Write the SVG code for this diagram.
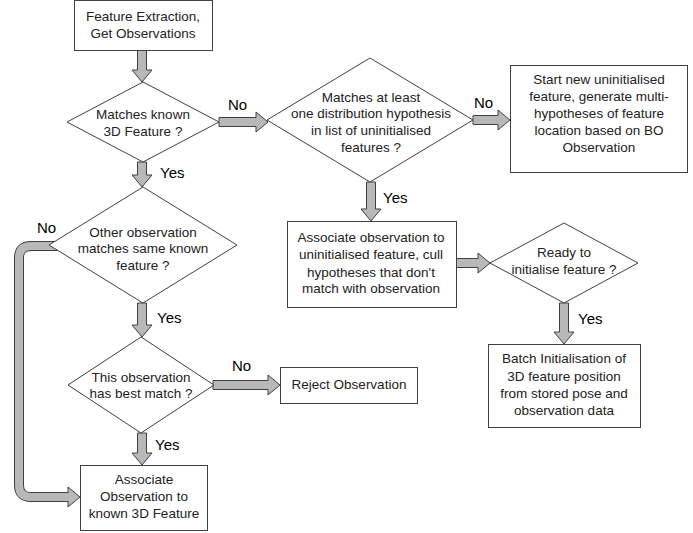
<svg xmlns="http://www.w3.org/2000/svg" width="693" height="533" viewBox="0 0 693 533">
<style>
.n{fill:#fff;stroke:#404040;stroke-width:1}
.t{font-family:"Liberation Sans",Arial,sans-serif;font-size:13.5px;fill:#222;text-anchor:middle}
.l{font-family:"Liberation Sans",Arial,sans-serif;font-size:15px;fill:#000}
.a{fill:#b8b8b8;stroke:#404040;stroke-width:1;stroke-linejoin:miter}
.so{fill:none;stroke:#404040;stroke-width:10}
.si{fill:none;stroke:#b8b8b8;stroke-width:8}
</style>
<rect width="693" height="533" fill="#fff"/>
<g id="connectors">
<polygon class="a" points="137.5,50 146.5,50 146.5,70 152,70 142,82 132,70 137.5,70"/>
<polygon class="a" points="137.5,162 146.5,162 146.5,175 152,175 142,187 132,175 137.5,175"/>
<polygon class="a" points="137.5,303 146.5,303 146.5,325 152,325 142,337 132,325 137.5,325"/>
<polygon class="a" points="137.5,433 146.5,433 146.5,453 152,453 142,465 132,453 137.5,453"/>
<polygon class="a" points="219,117.5 256,117.5 256,112 268,122 256,132 256,126.5 219,126.5"/>
<polygon class="a" points="473,115.5 498,115.5 498,110 510,120 498,130 498,124.5 473,124.5"/>
<polygon class="a" points="366.5,182 375.5,182 375.5,209 381,209 371,221 361,209 366.5,209"/>
<polygon class="a" points="456,258.5 478,258.5 478,253 490,263 478,273 478,267.5 456,267.5"/>
<polygon class="a" points="559.5,303 568.5,303 568.5,332 574,332 564,344 554,332 559.5,332"/>
<polygon class="a" points="213,380.5 268,380.5 268,375 280,385 268,395 268,389.5 213,389.5"/>
<path class="so" d="M 60 246 L 31 246 Q 19 246 19 258 L 19 485 Q 19 497 31 497 L 68 497"/>
<polygon class="a" points="68,487 80,497 68,507"/>
<path class="si" d="M 60 246 L 31 246 Q 19 246 19 258 L 19 485 Q 19 497 31 497 L 69 497"/>
</g>
<g id="n1"><rect class="n" x="74.5" y="0.5" width="138" height="50"/>
<text class="t" x="143" y="21">Feature Extraction,</text><text class="t" x="143" y="38">Get Observations</text></g>
<g id="d1"><polygon class="n" points="143,82 219,122 143,162 67,122"/>
<text class="t" x="143" y="119">Matches known</text><text class="t" x="143" y="136">3D Feature ?</text></g>
<g id="d2"><polygon class="n" points="370,58 473,120 370,182 267,120"/>
<text class="t" x="371" y="102">Matches at least</text><text class="t" x="371" y="118">one distribution hypothesis</text><text class="t" x="371" y="135">in list of uninitialised</text><text class="t" x="371" y="152">features ?</text></g>
<g id="n2"><rect class="n" x="510.5" y="65.5" width="177" height="107"/>
<text class="t" x="599" y="84">Start new uninitialised</text><text class="t" x="599" y="101">feature, generate multi-</text><text class="t" x="599" y="118">hypotheses of feature</text><text class="t" x="599" y="135">location based on BO</text><text class="t" x="599" y="152">Observation</text></g>
<g id="n3"><rect class="n" x="287.5" y="221.5" width="169" height="86"/>
<text class="t" x="371" y="242">Associate observation to</text><text class="t" x="371" y="259">uninitialised feature, cull</text><text class="t" x="371" y="277">hypotheses that don't</text><text class="t" x="371" y="293">match with observation</text></g>
<g id="d3"><polygon class="n" points="564,223 638,263 564,303 490,263"/>
<text class="t" x="564" y="257">Ready to</text><text class="t" x="564" y="274">initialise feature ?</text></g>
<g id="n4"><rect class="n" x="488.5" y="344.5" width="152" height="83"/>
<text class="t" x="564" y="363">Batch Initialisation of</text><text class="t" x="564" y="381">3D feature position</text><text class="t" x="564" y="398">from stored pose and</text><text class="t" x="564" y="415">observation data</text></g>
<g id="d4"><polygon class="n" points="143,187 237,245 143,303 49,245"/>
<text class="t" x="143" y="237">Other observation</text><text class="t" x="143" y="253">matches same known</text><text class="t" x="143" y="270">feature ?</text></g>
<g id="d5"><polygon class="n" points="141,337 214,385 141,433 68,385"/>
<text class="t" x="141" y="382">This observation</text><text class="t" x="141" y="398">has best match ?</text></g>
<g id="n5"><rect class="n" x="280.5" y="367.5" width="137" height="36"/>
<text class="t" x="349" y="389">Reject Observation</text></g>
<g id="n6"><rect class="n" x="80.5" y="465.5" width="127" height="65"/>
<text class="t" x="144" y="484">Associate</text><text class="t" x="144" y="501">Observation to</text><text class="t" x="144" y="518">known 3D Feature</text></g>
<g id="labels">
<text class="l" x="228" y="110">No</text>
<text class="l" x="160" y="178">Yes</text>
<text class="l" x="474" y="108">No</text>
<text class="l" x="383" y="203">Yes</text>
<text class="l" x="578" y="324">Yes</text>
<text class="l" x="37" y="233">No</text>
<text class="l" x="157" y="323">Yes</text>
<text class="l" x="232" y="371">No</text>
<text class="l" x="155" y="450">Yes</text>
</g>
</svg>
